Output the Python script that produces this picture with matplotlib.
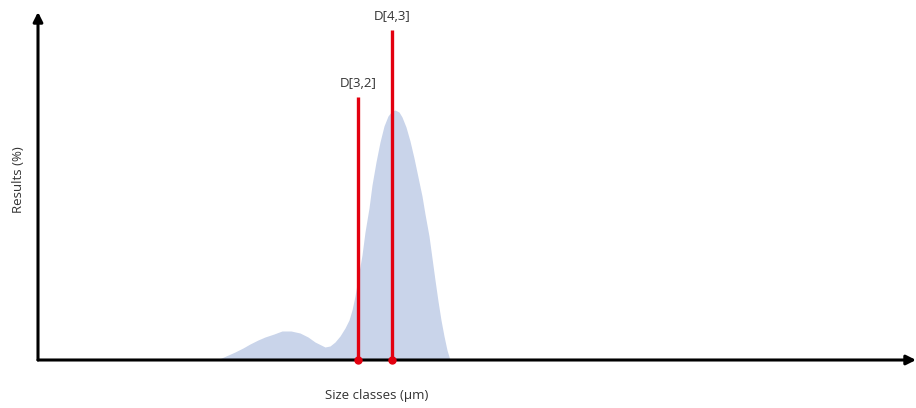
import matplotlib
matplotlib.use("Agg")
import matplotlib.pyplot as plt

# distribution outline (size class position, result height)
size_x = [179, 188, 197, 205, 212, 220, 227, 236, 244, 253, 262, 270, 277, 283, 287,
          292, 297, 302, 307, 311, 314, 317, 320, 324, 327, 331, 334, 338, 342, 346,
          350, 354, 357, 361, 364, 368, 372, 376, 380, 384, 387, 391, 394, 397, 400,
          403, 406, 409, 412]
result_y = [0, 4, 8, 12, 16, 20, 23, 26, 29, 29, 27, 23, 18, 15, 13,
            14, 18, 24, 32, 40, 50, 64, 82, 105, 128, 152, 175, 198, 218, 234,
            244, 249, 250, 248, 243, 233, 219, 202, 183, 164, 146, 124, 102, 80, 59,
            40, 24, 10, 0]

# mean diameters
d_labels = ["D[3,2]", "D[4,3]"]
d_pos = [320, 354]
d_height = [263, 330]

fig = plt.figure(figsize=(9.16, 4.08), dpi=100)
ax = fig.add_axes([38 / 916, 48 / 408, 878 / 916, 348 / 408])
ax.set_xlim(0, 878)
ax.set_ylim(0, 348)

ax.fill_between(size_x, result_y, 0, color="#c9d4ea", lw=0, zorder=1)

for lab, xp, h in zip(d_labels, d_pos, d_height):
    ax.plot([xp, xp], [0, h], color="#e3000f", lw=2.4, zorder=3, solid_capstyle="butt")
    ax.plot(xp, 0, "o", color="#e3000f", ms=5, zorder=4, clip_on=False)
    ax.text(xp, h + 7, lab, ha="center", va="bottom", fontsize=9.5,
            family="Open Sans", color="#333333")

# axis arrows
for s in ax.spines.values():
    s.set_visible(False)
ax.set_xticks([])
ax.set_yticks([])
ax.annotate("", xy=(1.0, 0), xytext=(0, 0), xycoords="axes fraction",
            arrowprops=dict(arrowstyle="-|>", color="black", lw=2.2,
                            mutation_scale=14, shrinkA=0, shrinkB=0), zorder=2)
ax.annotate("", xy=(0, 1.0), xytext=(0, 0), xycoords="axes fraction",
            arrowprops=dict(arrowstyle="-|>", color="black", lw=2.2,
                            mutation_scale=14, shrinkA=0, shrinkB=0), zorder=2)

fig.text(377 / 916, 1 - 395 / 408, "Size classes (µm)", ha="center", va="center",
         fontsize=9.5, family="Open Sans", color="#333333")
fig.text(18 / 916, 1 - 180 / 408, "Results (%)", ha="center", va="center",
         rotation=90, fontsize=9.5, family="Open Sans", color="#333333")

fig.savefig("out.png", dpi=100)
